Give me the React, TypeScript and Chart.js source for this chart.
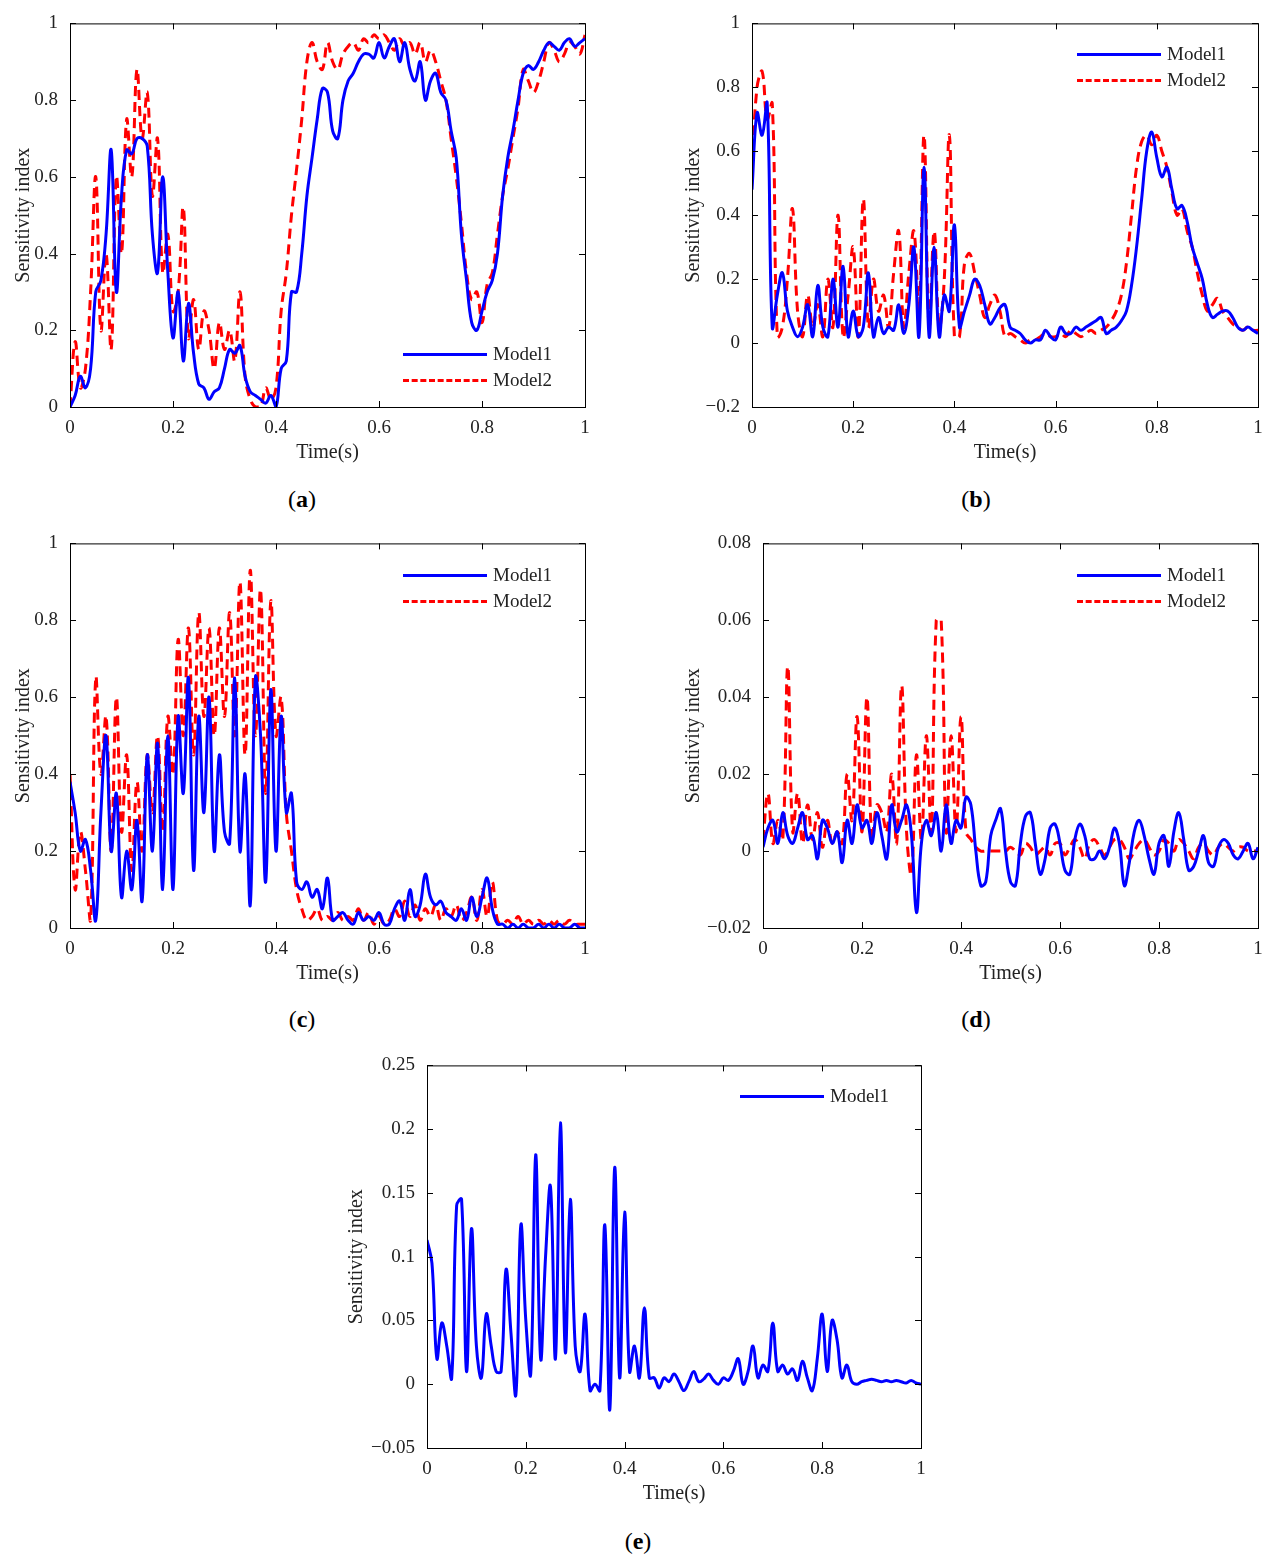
import React, { useEffect, useRef } from "react";
import { Chart, registerables } from "chart.js";
Chart.register(...registerables);

const timeAxis = Array.from({ length: 101 }, (_, i) => i / 100);

const aModel1 = [0,0.03,0.08,0.05,0.1,0.3,0.33,0.45,0.67,0.3,
0.55,0.67,0.66,0.7,0.7,0.68,0.45,0.35,0.6,0.35,
0.18,0.3,0.12,0.27,0.14,0.06,0.05,0.02,0.04,0.05,
0.1,0.15,0.14,0.16,0.08,0.04,0.03,0.02,0.01,0.03,
0,0.1,0.12,0.3,0.3,0.4,0.55,0.65,0.75,0.83,
0.82,0.72,0.7,0.8,0.85,0.87,0.9,0.92,0.92,0.91,
0.95,0.91,0.94,0.96,0.9,0.95,0.88,0.85,0.9,0.8,
0.85,0.87,0.82,0.8,0.72,0.65,0.45,0.33,0.22,0.2,
0.25,0.3,0.33,0.4,0.55,0.65,0.72,0.8,0.87,0.89,
0.88,0.9,0.93,0.95,0.94,0.93,0.95,0.96,0.94,0.95,0.96];
const aModel2 = [0,0.17,0.05,0.1,0.3,0.6,0.2,0.4,0.15,0.6,
0.4,0.75,0.6,0.88,0.7,0.82,0.55,0.7,0.35,0.45,
0.25,0.3,0.52,0.18,0.28,0.15,0.25,0.2,0.1,0.22,
0.15,0.2,0.12,0.3,0.08,0.02,0,0,0.05,0.02,
0.05,0.25,0.35,0.5,0.62,0.75,0.9,0.95,0.9,0.88,
0.95,0.9,0.88,0.92,0.94,0.95,0.93,0.96,0.95,0.97,
0.96,0.97,0.95,0.93,0.96,0.94,0.95,0.92,0.95,0.9,
0.93,0.9,0.85,0.8,0.7,0.6,0.48,0.35,0.28,0.3,
0.22,0.32,0.35,0.45,0.55,0.62,0.7,0.78,0.88,0.85,
0.82,0.85,0.9,0.95,0.93,0.9,0.92,0.95,0.94,0.92,0.97];

const bModel1 = [0.48,0.72,0.65,0.75,0.05,0.15,0.22,0.1,0.05,0.02,
0.05,0.12,0.02,0.18,0.05,0.02,0.2,0.05,0.24,0.02,
0.1,0.02,0.05,0.22,0.02,0.08,0.03,0.05,0.04,0.12,
0.03,0.12,0.3,0.02,0.55,0.02,0.3,0.02,0.15,0.1,
0.37,0.05,0.1,0.15,0.2,0.18,0.12,0.06,0.08,0.11,
0.12,0.05,0.04,0.03,0.01,0,0.01,0.01,0.04,0.02,
0.01,0.05,0.03,0.03,0.05,0.04,0.05,0.06,0.07,0.08,
0.03,0.04,0.05,0.07,0.1,0.18,0.3,0.45,0.6,0.66,
0.58,0.52,0.55,0.48,0.42,0.43,0.38,0.3,0.25,0.2,
0.12,0.08,0.09,0.1,0.1,0.08,0.05,0.04,0.05,0.04,0.03];
const bModel2 = [0.55,0.8,0.85,0.7,0.75,0.02,0.05,0.2,0.42,0.1,
0.02,0.15,0.05,0.12,0.02,0.2,0.05,0.4,0.02,0.15,
0.3,0.02,0.45,0.05,0.2,0.1,0.15,0.05,0.22,0.35,
0.05,0.22,0.35,0.1,0.65,0.05,0.35,0.05,0.2,0.65,
0.02,0.02,0.25,0.28,0.22,0.15,0.08,0.12,0.15,0.1,
0.02,0.03,0.02,0.01,0,0.01,0.01,0.02,0.03,0.02,
0.02,0.03,0.02,0.04,0.03,0.02,0.03,0.04,0.03,0.04,
0.05,0.07,0.1,0.15,0.25,0.4,0.55,0.63,0.65,0.62,
0.65,0.6,0.55,0.47,0.4,0.42,0.35,0.3,0.22,0.15,
0.1,0.12,0.14,0.1,0.08,0.06,0.05,0.04,0.05,0.04,0.04];

const cModel1 = [0.38,0.3,0.2,0.23,0.15,0.02,0.3,0.5,0.2,0.35,
0.08,0.2,0.1,0.28,0.07,0.45,0.2,0.48,0.1,0.5,
0.1,0.55,0.35,0.65,0.15,0.55,0.3,0.6,0.2,0.45,
0.25,0.22,0.65,0.2,0.4,0.06,0.65,0.5,0.12,0.62,
0.2,0.55,0.3,0.35,0.12,0.1,0.12,0.08,0.1,0.05,
0.13,0.02,0.03,0.04,0.02,0.01,0.04,0.02,0.03,0.02,
0.04,0.01,0.01,0.05,0.07,0.02,0.1,0.03,0.06,0.14,
0.08,0.06,0.07,0.04,0.03,0.02,0.05,0.02,0.08,0.03,
0.08,0.13,0.05,0.01,0.01,0,0.01,0,0.01,0,
0,0.01,0,0.01,0,0.01,0,0,0.01,0,0];
const cModel2 = [0.4,0.1,0.25,0.15,0.02,0.65,0.4,0.55,0.2,0.6,
0.25,0.45,0.15,0.38,0.2,0.45,0.3,0.5,0.25,0.55,
0.4,0.75,0.5,0.78,0.45,0.82,0.55,0.78,0.5,0.78,
0.55,0.82,0.5,0.9,0.45,0.93,0.5,0.88,0.35,0.85,
0.5,0.6,0.3,0.2,0.1,0.05,0.02,0.03,0.05,0.02,
0.03,0.02,0.04,0.02,0.03,0.02,0.05,0.02,0.04,0.01,
0.03,0.01,0.02,0.05,0.03,0.07,0.03,0.06,0.02,0.05,
0.03,0.06,0.02,0.05,0.03,0.06,0.02,0.04,0.08,0.02,
0.1,0.03,0.12,0.02,0.01,0.02,0.01,0.03,0.01,0.02,
0.01,0.02,0.01,0.02,0.01,0.02,0.01,0.02,0.01,0.01,0.01];

const dModel1 = [0.001,0.006,0.008,0.002,0.01,0.004,0.002,0.006,0.01,0.003,
0.004,-0.002,0.008,0.006,0.002,0.005,-0.003,0.008,0.002,0.012,
0.006,0.008,0.002,0.01,0.004,-0.002,0.012,0.005,0.008,0.012,
0.004,-0.016,0.002,0.008,0.004,0.01,0,0.012,0.002,0.008,
0.006,0.014,0.012,0,-0.009,-0.008,0.004,0.008,0.011,0,
-0.008,-0.009,0.002,0.009,0.01,0.002,-0.006,-0.002,0.006,0.007,
0.002,-0.005,-0.006,0.003,0.007,0.004,-0.002,-0.002,0,-0.002,
0.001,0.006,0.002,-0.009,-0.003,0.005,0.008,0.004,-0.002,-0.006,
0.002,0.004,-0.004,0.005,0.01,0.003,-0.005,-0.004,0,0.004,
-0.003,-0.004,0.001,0.003,0.002,-0.001,-0.002,0,0.002,-0.002,0.001];
const dModel2 = [0.003,0.015,0.002,0.008,0.003,0.048,0.005,0.015,0.002,0.012,
0.003,0.01,0.001,0.008,0.002,0.005,0.002,0.02,0.008,0.035,
0.005,0.04,0.003,0.012,0.01,0.005,0.02,0.002,0.043,0.005,
-0.006,0.025,0.003,0.03,0.005,0.06,0.06,0.005,0.03,0.005,
0.035,0.005,0.003,0.001,0,0,0,0,0,0,
0.001,0,-0.001,0.002,0.001,-0.001,0,0.001,-0.001,0.002,
0.002,-0.001,0.001,0.003,0.001,-0.002,0.002,0.003,0.001,-0.001,
0.001,0.003,0.003,0.001,-0.002,0,0.002,0.003,0.001,-0.001,
0,0.003,0.002,0,0.003,0.002,0,-0.002,0.001,0.002,
0,-0.001,0.001,0.002,0.001,0,0.001,0.001,0,0,0];

const eModel1 = [0.113,0.095,0.02,0.048,0.03,0.005,0.14,0.145,0.01,0.122,
0.03,0.005,0.055,0.03,0.01,0.01,0.09,0.04,-0.008,0.125,
0.05,0.008,0.18,0.02,0.1,0.155,0.02,0.205,0.025,0.145,
0.03,0.01,0.055,-0.005,0,-0.005,0.125,-0.02,0.17,0.005,
0.135,0.01,0.03,0.005,0.06,0.005,0.005,-0.003,0.005,0.002,
0.008,0.002,-0.005,0.002,0.01,0.002,0.004,0.008,0.003,0,
0.005,0.003,0.01,0.02,0,0.01,0.03,0.005,0.015,0.01,
0.048,0.01,0.015,0.008,0.012,0.003,0.018,0.005,-0.005,0.02,
0.055,0.01,0.05,0.035,0.005,0.015,0.002,0,0.002,0.003,
0.004,0.003,0.002,0.003,0.002,0.003,0.002,0.001,0.003,0.001,0];

const FONT = "'Liberation Serif', 'DejaVu Serif', serif";
const fmt = (v: number) => {
  const s = Number(v.toFixed(4)).toString();
  return s.replace("-", "\u2212");
};

const framePlugin = {
  id: "frame",
  afterDraw(chart: any) {
    const { ctx, chartArea: a, scales } = chart;
    ctx.save();
    ctx.strokeStyle = "#000";
    ctx.lineWidth = 1;
    ctx.strokeRect(a.left + 0.5, a.top + 0.5, a.right - a.left, a.bottom - a.top);
    const L = 6;
    ctx.beginPath();
    scales.x.ticks.forEach((t: any) => {
      const px = Math.round(scales.x.getPixelForValue(t.value)) + 0.5;
      ctx.moveTo(px, a.bottom); ctx.lineTo(px, a.bottom - L);
      ctx.moveTo(px, a.top); ctx.lineTo(px, a.top + L);
    });
    scales.y.ticks.forEach((t: any) => {
      const py = Math.round(scales.y.getPixelForValue(t.value)) + 0.5;
      ctx.moveTo(a.left, py); ctx.lineTo(a.left + L, py);
      ctx.moveTo(a.right, py); ctx.lineTo(a.right - L, py);
    });
    ctx.stroke();
    ctx.restore();
  },
};

type PanelProps = {
  left: number; top: number; w: number; h: number; padL: number;
  yMin: number; yMax: number; yStep: number;
  series: { data: number[]; color: string; dash: number[] }[];
};

function Panel({ left, top, w, h, padL, yMin, yMax, yStep, series }: PanelProps) {
  const ref = useRef<HTMLCanvasElement>(null);
  const padT = 12, padR = 12, padB = 58;
  useEffect(() => {
    const chart = new Chart(ref.current!, {
      type: "line",
      data: {
        datasets: series.map((s) => ({
          data: timeAxis.map((x, i) => ({ x, y: s.data[i] })),
          borderColor: s.color,
          borderWidth: 3,
          borderDash: s.dash,
          pointRadius: 0,
          tension: 0.4,
          fill: false,
        })),
      },
      plugins: [framePlugin],
      options: {
        animation: false,
        responsive: false,
        layout: { padding: { top: padT, right: padR } },
        plugins: { legend: { display: false }, tooltip: { enabled: false } },
        scales: {
          x: {
            type: "linear", min: 0, max: 1,
            afterFit: (s: any) => { s.height = padB; },
            grid: { display: false },
            border: { display: false },
            ticks: { stepSize: 0.2, color: "#222", font: { family: FONT, size: 19 }, padding: 2, callback: (v: any) => fmt(v) },
            title: { display: true, text: "Time(s)", color: "#222", font: { family: FONT, size: 20 }, padding: 0 },
          },
          y: {
            min: yMin, max: yMax,
            afterFit: (s: any) => { s.width = padL; },
            grid: { display: false },
            border: { display: false },
            ticks: { stepSize: yStep, color: "#222", font: { family: FONT, size: 19 }, padding: 4, callback: (v: any) => fmt(v) },
            title: { display: true, text: "Sensitivity index", color: "#222", font: { family: FONT, size: 20 }, padding: 0 },
          },
        },
      } as any,
    });
    return () => chart.destroy();
  }, []);
  return (
    <canvas
      ref={ref}
      width={w + padL + padR}
      height={h + padT + padB}
      style={{ position: "absolute", left: left - padL, top: top - padT }}
    />
  );
}

function Legend({ x, y, items }: { x: number; y: number; items: { color: string; dashed: boolean; label: string }[] }) {
  return (
    <>
      {items.map((it, i) => (
        <div key={i} style={{ position: "absolute", left: x, top: y + i * 26 - 12, height: 24, display: "flex", alignItems: "center", fontFamily: FONT, fontSize: 19, color: "#222" }}>
          <div style={{ width: 84, borderTop: `3px ${it.dashed ? "dashed" : "solid"} ${it.color}`, marginRight: 6 }} />
          <span>{it.label}</span>
        </div>
      ))}
    </>
  );
}

const blue = "#0000ff";
const red = "#ff0000";
const two = [
  { color: blue, dashed: false, label: "Model1" },
  { color: red, dashed: true, label: "Model2" },
];

function Label({ x, y, l }: { x: number; y: number; l: string }) {
  return (
    <div style={{ position: "absolute", left: x - 40, width: 80, top: y - 14, textAlign: "center", fontFamily: FONT, fontSize: 24, color: "#000" }}>
      (<b>{l}</b>)
    </div>
  );
}

export default function App() {
  const solidB = { color: blue, dash: [] as number[] };
  const dashR = { color: red, dash: [10, 6] };
  return (
    <div style={{ position: "absolute", left: 0, top: 0, width: 1276, height: 1568, background: "#fff" }}>
      <Panel left={70} top={20} w={515} h={387} padL={58} yMin={0} yMax={1} yStep={0.2}
        series={[{ data: aModel1, ...solidB }, { data: aModel2, ...dashR }]} />
      <Panel left={752} top={20} w={506} h={387} padL={70} yMin={-0.2} yMax={1} yStep={0.2}
        series={[{ data: bModel1, ...solidB }, { data: bModel2, ...dashR }]} />
      <Panel left={70} top={540} w={515} h={388} padL={58} yMin={0} yMax={1} yStep={0.2}
        series={[{ data: cModel1, ...solidB }, { data: cModel2, ...dashR }]} />
      <Panel left={763} top={540} w={495} h={388} padL={81} yMin={-0.02} yMax={0.08} yStep={0.02}
        series={[{ data: dModel1, ...solidB }, { data: dModel2, ...dashR }]} />
      <Panel left={427} top={1062} w={494} h={386} padL={82} yMin={-0.05} yMax={0.25} yStep={0.05}
        series={[{ data: eModel1, ...solidB }]} />
      <Legend x={403} y={354} items={two} />
      <Legend x={1077} y={54} items={two} />
      <Legend x={403} y={575} items={two} />
      <Legend x={1077} y={575} items={two} />
      <Legend x={740} y={1096} items={[two[0]]} />
      <Label x={302} y={500} l="a" />
      <Label x={976} y={500} l="b" />
      <Label x={302} y={1020} l="c" />
      <Label x={976} y={1020} l="d" />
      <Label x={638} y={1542} l="e" />
    </div>
  );
}
